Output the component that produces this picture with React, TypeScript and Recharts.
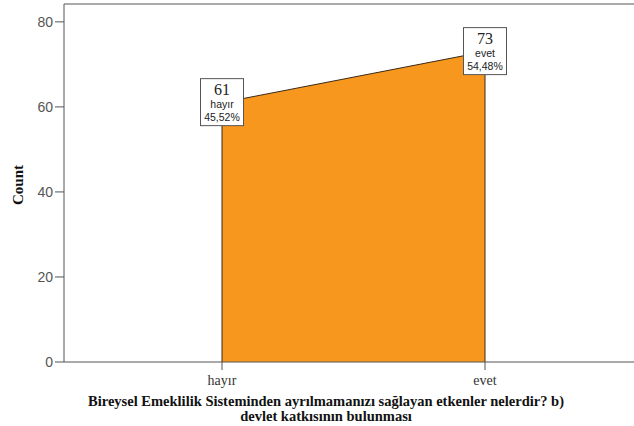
import React from 'react';
import { AreaChart, Area, XAxis, YAxis, ReferenceLine, LabelList } from 'recharts';

const categories = ['hayır', 'evet'];
const counts = [61, 73];
const percents = ['45,52%', '54,48%'];
const yTicks = [0, 20, 40, 60, 80];
const yMax = 84.2;
const titleLines = [
  'Bireysel Emeklilik Sisteminden ayrılmamanızı sağlayan etkenler nelerdir? b)',
  'devlet katkısının bulunması',
];

const data = categories.map((c, i) => ({ name: c, count: counts[i], pct: percents[i] }));

const serif = '"Liberation Serif", "Times New Roman", serif';
const sans = '"Liberation Sans", Arial, sans-serif';
const FILL = '#F7971E';
const AXIS = '#555555';

const BoxLabel = (props: any) => {
  const { x, y, value, index } = props;
  const w = 43;
  return (
    <g>
      <rect x={x - w / 2} y={y - 24} width={w} height={47} fill="#ffffff" stroke={AXIS} strokeWidth={1} />
      <text x={x} y={y - 8} textAnchor="middle" fontFamily={serif} fontSize={16} fill="#222">
        {value}
      </text>
      <text x={x} y={y + 5} textAnchor="middle" fontFamily={sans} fontSize={10.5} fill="#222">
        {categories[index]}
      </text>
      <text x={x} y={y + 18} textAnchor="middle" fontFamily={sans} fontSize={10.5} fill="#222">
        {percents[index]}
      </text>
    </g>
  );
};

const TitleLabel = () => (
  <g>
    {titleLines.map((t, i) => (
      <text key={i} x={326} y={406 + i * 15} textAnchor="middle" fontFamily={serif} fontWeight="bold" fontSize={14.5} fill="#111">
        {t}
      </text>
    ))}
  </g>
);

const CountLabel = () => (
  <text x={23} y={185} transform="rotate(-90 23 185)" textAnchor="middle" fontFamily={serif} fontWeight="bold" fontSize={15} fill="#111">
    Count
  </text>
);

export default function App() {
  return (
    <div style={{ position: 'absolute', left: 0, top: 0, background: '#fff' }}>
      <AreaChart width={634} height={426} data={data} margin={{ top: 4, right: 0, bottom: 0, left: 0 }}>
        <XAxis
          dataKey="name"
          height={64}
          padding={{ left: 158, right: 149 }}
          stroke={AXIS}
          tickSize={8}
          tick={{ fontFamily: serif, fontSize: 14, fill: '#333' }}
          tickMargin={5}
          label={<TitleLabel />}
        />
        <YAxis
          width={64}
          domain={[0, yMax]}
          ticks={yTicks}
          stroke={AXIS}
          tickSize={9}
          tickMargin={2}
          tick={{ fontFamily: sans, fontSize: 14, fill: '#555' }}
          label={<CountLabel />}
        />
        <ReferenceLine y={yMax} stroke={AXIS} strokeWidth={1} ifOverflow="visible" />
        <Area
          type="linear"
          dataKey="count"
          fill={FILL}
          fillOpacity={1}
          stroke="#3a2a1a"
          strokeWidth={1}
          isAnimationActive={false}
          dot={false}
          activeDot={false}
        >
          <LabelList dataKey="count" content={<BoxLabel />} />
        </Area>
        {data.map((d) => (
          <ReferenceLine
            key={d.name}
            segment={[{ x: d.name, y: 0 }, { x: d.name, y: d.count }]}
            stroke="#3a2a1a"
            strokeWidth={1}
          />
        ))}
      </AreaChart>
    </div>
  );
}
